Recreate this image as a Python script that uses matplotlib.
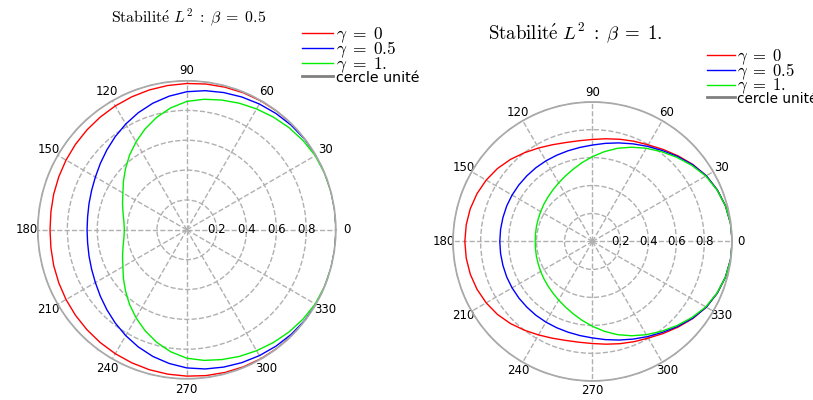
import numpy as np
import matplotlib
matplotlib.use("Agg")
import matplotlib.pyplot as plt

plt.rcParams['mathtext.fontset'] = 'cm'

# angles of the read points, every 7.5 degrees from 0 to 360
angles = np.arange(0, 361, 7.5)

# beta = 0.5 : |G|
r_b05_g0 = [1.0, 1.0, 1.0, 1.0, 1.0, 1.0, 0.999, 0.998, 0.996, 0.993, 0.989, 0.985, 0.98,
            0.975, 0.97, 0.964, 0.958, 0.952, 0.946, 0.94, 0.934, 0.928, 0.923, 0.918, 0.916,
            0.918, 0.923, 0.928, 0.934, 0.94, 0.946, 0.952, 0.958, 0.964, 0.97, 0.975,
            0.98, 0.985, 0.989, 0.993, 0.996, 0.998, 0.999, 1.0, 1.0, 1.0, 1.0, 1.0, 1.0]
r_b05_g05 = [1.0, 1.0, 1.0, 1.0, 0.999, 0.996, 0.99, 0.982, 0.973, 0.963, 0.952, 0.94, 0.925,
             0.903, 0.878, 0.849, 0.818, 0.787, 0.757, 0.73, 0.707, 0.69, 0.678, 0.67, 0.668,
             0.67, 0.678, 0.69, 0.707, 0.73, 0.757, 0.787, 0.818, 0.849, 0.878, 0.903,
             0.925, 0.94, 0.952, 0.963, 0.973, 0.982, 0.99, 0.996, 0.999, 1.0, 1.0, 1.0, 1.0]
r_b05_g1 = [1.0, 1.0, 0.999, 0.997, 0.993, 0.982, 0.968, 0.952, 0.935, 0.918, 0.90, 0.882, 0.86,
            0.824, 0.78, 0.731, 0.68, 0.63, 0.58, 0.535, 0.494, 0.466, 0.442, 0.425, 0.418,
            0.425, 0.442, 0.466, 0.494, 0.535, 0.58, 0.63, 0.68, 0.731, 0.78, 0.824,
            0.86, 0.882, 0.90, 0.918, 0.935, 0.952, 0.968, 0.982, 0.993, 0.997, 0.999, 1.0, 1.0]

# beta = 1
r_b1_g0 = [1.0, 0.996, 0.985, 0.966, 0.94, 0.905, 0.866, 0.83, 0.798, 0.776, 0.757, 0.741, 0.73,
           0.727, 0.733, 0.749, 0.772, 0.80, 0.83, 0.857, 0.878, 0.894, 0.905, 0.911, 0.913,
           0.911, 0.905, 0.894, 0.878, 0.857, 0.83, 0.80, 0.772, 0.749, 0.733, 0.727,
           0.73, 0.741, 0.757, 0.776, 0.798, 0.83, 0.866, 0.905, 0.94, 0.966, 0.985, 0.996, 1.0]
r_b1_g05 = [1.0, 0.996, 0.985, 0.966, 0.94, 0.902, 0.86, 0.82, 0.786, 0.756, 0.73, 0.708, 0.69,
            0.679, 0.672, 0.668, 0.666, 0.665, 0.664, 0.664, 0.664, 0.664, 0.663, 0.663, 0.663,
            0.663, 0.663, 0.664, 0.664, 0.664, 0.664, 0.665, 0.666, 0.668, 0.672, 0.679,
            0.69, 0.708, 0.73, 0.756, 0.786, 0.82, 0.86, 0.902, 0.94, 0.966, 0.985, 0.996, 1.0]
r_b1_g1 = [1.0, 0.996, 0.985, 0.964, 0.936, 0.895, 0.852, 0.81, 0.77, 0.73, 0.69, 0.648, 0.607,
           0.569, 0.535, 0.507, 0.484, 0.465, 0.45, 0.438, 0.428, 0.42, 0.415, 0.411, 0.41,
           0.411, 0.415, 0.42, 0.428, 0.438, 0.45, 0.465, 0.484, 0.507, 0.535, 0.569,
           0.607, 0.648, 0.69, 0.73, 0.77, 0.81, 0.852, 0.895, 0.936, 0.964, 0.985, 0.996, 1.0]

labels = [r'$\gamma\;=\;0$', r'$\gamma\;=\;0.5$', r'$\gamma\;=\;1.$', 'cercle unité']
colors = ['red', 'blue', '#00ee00']
theta_ticks = list(range(0, 360, 30))
r_ticks = [0.2, 0.4, 0.6, 0.8]

fig = plt.figure(figsize=(8.13, 4.0), dpi=100)


def polar_panel(rect, curves, pad):
    ax = fig.add_axes(rect, projection='polar')
    th = np.deg2rad(angles)
    for r, c, lab in zip(curves, colors, labels):
        ax.plot(th, r, color=c, lw=1.0, label=lab)
    circ = np.linspace(0, 2 * np.pi, 361)
    ax.plot(circ, np.ones_like(circ), color='#a8a8a8', lw=1.8, label=labels[3])
    ax.set_ylim(0, 1)
    ax.set_thetagrids(theta_ticks, labels=[str(t) for t in theta_ticks])
    ax.set_rgrids(r_ticks, labels=['' for _ in r_ticks], angle=0)
    for rt in r_ticks:
        ax.text(0, rt, str(rt), ha='center', va='center', fontsize=8.5)
    ax.grid(True, color='#b0b0b0', ls='--', lw=1.0)
    ax.spines['polar'].set_color('#a8a8a8')
    ax.tick_params(axis='x', labelsize=8.5, pad=pad)
    return ax


def add_legend(ax, anchor, math_size, text_size, spacing, hlen):
    leg = ax.legend(loc='upper left', bbox_to_anchor=anchor, bbox_transform=fig.transFigure,
                    frameon=False, fontsize=math_size, borderpad=0, borderaxespad=0,
                    labelspacing=spacing, handlelength=hlen, handletextpad=0.15)
    leg.get_texts()[3].set_fontsize(text_size)
    leg.legend_handles[3].set_color('#808080')
    leg.legend_handles[3].set_linewidth(2.0)
    return leg


ax1 = polar_panel([0.0461, 0.0522, 0.3673, 0.7465], [r_b05_g0, r_b05_g05, r_b05_g1], -3)
ax2 = polar_panel([0.5568, 0.0468, 0.3439, 0.699], [r_b1_g0, r_b1_g05, r_b1_g1], -4)

fig.text(0.2325, 0.958, r'$\mathrm{Stabilit\acute{e}}\ L^2\;:\;\beta\;=\;0.5$',
         ha='center', va='center', fontsize=11.4)
fig.text(0.7073, 0.918, r'$\mathrm{Stabilit\acute{e}}\ L^2\;:\;\beta\;=\;1.$',
         ha='center', va='center', fontsize=13.6)

add_legend(ax1, (0.3715, 0.938), 12.5, 10.2, -0.28, 1.78)
add_legend(ax2, (0.8692, 0.883), 12, 9.8, -0.32, 1.68)

fig.savefig('out.png', dpi=100, facecolor='white')
